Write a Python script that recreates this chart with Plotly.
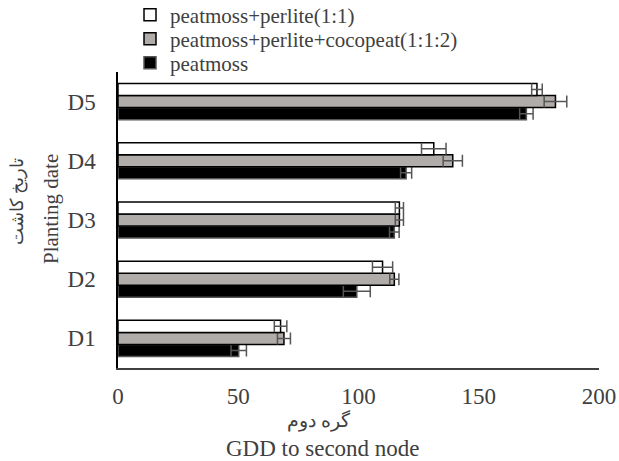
import plotly.graph_objects as go

categories = ["D1", "D2", "D3", "D4", "D5"]
peatmoss = [50.2, 99.3, 114.9, 119.8, 169.8]
peatmoss_err = [3.2, 5.6, 2.0, 2.3, 2.8]
mix3 = [69.0, 114.9, 117.0, 139.2, 181.9]
mix3_err = [2.7, 1.9, 1.7, 4.0, 4.7]
mix2 = [67.6, 110.0, 117.0, 131.3, 174.2]
mix2_err = [2.6, 4.2, 1.7, 5.1, 2.2]
tick_vals = [0, 50, 100, 150, 200]

FONT = "Liberation Serif"
TXT = "#404040"
W, H = 619, 461
ML, MR, MT, MB = 118, 20, 72, 93
PW, PH = W - ML - MR, H - MT - MB


def px(x):
    return (x - ML) / PW


def py(y):
    return (H - y - MB) / PH


fig = go.Figure()
series = [
    ("peatmoss", peatmoss, peatmoss_err, "#000000", "#555555", "legend3"),
    ("peatmoss+perlite+cocopeat(1:1:2)", mix3, mix3_err, "#b0acaa", "#000000", "legend2"),
    ("peatmoss+perlite(1:1)", mix2, mix2_err, "#ffffff", "#000000", "legend"),
]
for name, vals, errs, col, lc, lg in series:
    fig.add_trace(go.Bar(
        y=categories, x=vals, name=name, orientation="h", legend=lg,
        marker=dict(color=col, line=dict(color=lc, width=1.5)),
        error_x=dict(type="data", array=errs, visible=True, color="#555555", thickness=1.5, width=6),
    ))

leg_common = dict(xref="paper", yref="paper", xanchor="left", yanchor="middle",
                  font=dict(size=21, color=TXT, family=FONT), bgcolor="rgba(0,0,0,0)",
                  itemwidth=30)

fig.update_layout(
    width=W, height=H,
    margin=dict(l=ML, r=MR, t=MT, b=MB, autoexpand=False),
    barmode="group", bargap=0.39, bargroupgap=0,
    plot_bgcolor="white", paper_bgcolor="white",
    font=dict(family=FONT, size=21, color=TXT),
    showlegend=True,
    legend=dict(x=px(130), y=py(15), **leg_common),
    legend2=dict(x=px(130), y=py(39), **leg_common),
    legend3=dict(x=px(130), y=py(63), **leg_common),
    xaxis=dict(range=[0, 200], tickvals=tick_vals, showgrid=False, zeroline=False,
               showline=True, linecolor="#404040", linewidth=1.5, ticks="",
               ticklabelstandoff=7, tickfont=dict(size=23, color=TXT)),
    yaxis=dict(showgrid=False, zeroline=False, showline=True, linecolor="#000000", linewidth=1.5,
               ticks="", ticklabelstandoff=16, tickfont=dict(size=23, color=TXT)),
    annotations=[
        dict(text="گره دوم", x=px(319), y=py(421), xref="paper", yref="paper", showarrow=False,
             xanchor="center", yanchor="middle", font=dict(size=19, color=TXT, family=FONT)),
        dict(text="GDD to second node", x=px(323), y=py(448), xref="paper", yref="paper",
             showarrow=False, xanchor="center", yanchor="middle",
             font=dict(size=23, color=TXT, family=FONT)),
        dict(text="تاریخ کاشت", x=px(17), y=py(201), xref="paper", yref="paper", showarrow=False,
             xanchor="center", yanchor="middle", textangle=-90,
             font=dict(size=18, color=TXT, family=FONT)),
        dict(text="Planting date", x=px(51), y=py(209), xref="paper", yref="paper", showarrow=False,
             xanchor="center", yanchor="middle", textangle=-90,
             font=dict(size=21, color=TXT, family=FONT)),
    ],
)

fig.write_html("out.html")
